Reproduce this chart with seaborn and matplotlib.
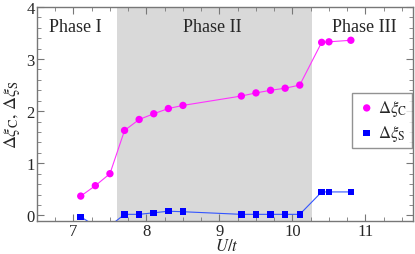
import numpy as np
import pandas as pd
import matplotlib
matplotlib.use("Agg")
import matplotlib.pyplot as plt
import seaborn as sns
from matplotlib.ticker import MultipleLocator

# data
u_vals = [7.1, 7.3, 7.5, 7.7, 7.9, 8.1, 8.3, 8.5, 9.3, 9.5, 9.7, 9.9, 10.1, 10.4, 10.5, 10.8]
xi_c = [0.37, 0.57, 0.80, 1.63, 1.84, 1.95, 2.05, 2.11, 2.29, 2.35, 2.40, 2.44, 2.50, 3.32, 3.33, 3.36]
xi_s = [-0.03, -0.20, -0.20, 0.02, 0.02, 0.05, 0.08, 0.07, 0.02, 0.02, 0.02, 0.02, 0.02, 0.45, 0.45, 0.45]

phase_names = ["Phase I", "Phase II", "Phase III"]
phase_x = [7.03, 8.9, 10.98]
phase2_span = (7.6, 10.27)

sns.set_style("ticks")
plt.rcParams["font.family"] = ["Liberation Serif", "DejaVu Serif"]
plt.rcParams["mathtext.fontset"] = "stix"

df = pd.DataFrame({"U": u_vals, "C": xi_c, "S": xi_s})

fig = plt.figure(figsize=(4.15, 2.55), dpi=100)
ax = fig.add_axes([0.089, 0.131, 0.906, 0.838])

ax.axvspan(*phase2_span, color="#d9d9d9", lw=0, zorder=0)

sns.lineplot(data=df, x="U", y="C", ax=ax, color="#ff33ff", lw=0.8, zorder=2)
sns.lineplot(data=df, x="U", y="S", ax=ax, color="#3355ff", lw=0.8, zorder=2)
sns.scatterplot(data=df, x="U", y="C", ax=ax, color="#ff00ff", marker="o", s=28,
                edgecolor="none", label=r"$\Delta\xi_{\mathrm{C}}$", zorder=3)
sns.scatterplot(data=df, x="U", y="S", ax=ax, color="#0000ff", marker="s", s=22,
                edgecolor="none", label=r"$\Delta\xi_{\mathrm{S}}$", zorder=3)

ax.set_xlim(6.5, 11.65)
ax.set_ylim(-0.1, 4)
ax.xaxis.set_major_locator(MultipleLocator(1))
ax.xaxis.set_minor_locator(MultipleLocator(0.25))
ax.yaxis.set_major_locator(MultipleLocator(1))
ax.yaxis.set_minor_locator(MultipleLocator(0.2))
ax.tick_params(which="both", direction="in", top=True, right=True, color="#777777",
               labelsize=12, pad=1.5)
ax.tick_params(which="major", length=5)
ax.tick_params(which="minor", length=3)
for sp in ax.spines.values():
    sp.set_color("#777777")
    sp.set_linewidth(1)

ax.set_xlabel(r"$U/t$", fontsize=12)
ax.xaxis.set_label_coords(0.505, -0.08)
ax.set_ylabel(r"$\Delta\xi_{\mathrm{C}},\,\Delta\xi_{\mathrm{S}}$", fontsize=13, labelpad=3)

for name, x in zip(phase_names, phase_x):
    ax.text(x, 3.63, name, ha="center", va="center", fontsize=13)

leg = ax.legend(loc="center left", bbox_to_anchor=(0.815, 0.467), fontsize=12,
                frameon=True, fancybox=False, handletextpad=0.1, borderpad=0.3,
                handlelength=1.2, labelspacing=0.3)
leg.get_frame().set_edgecolor("#777777")
leg.get_frame().set_linewidth(1)

fig.savefig("out.png", dpi=100)
